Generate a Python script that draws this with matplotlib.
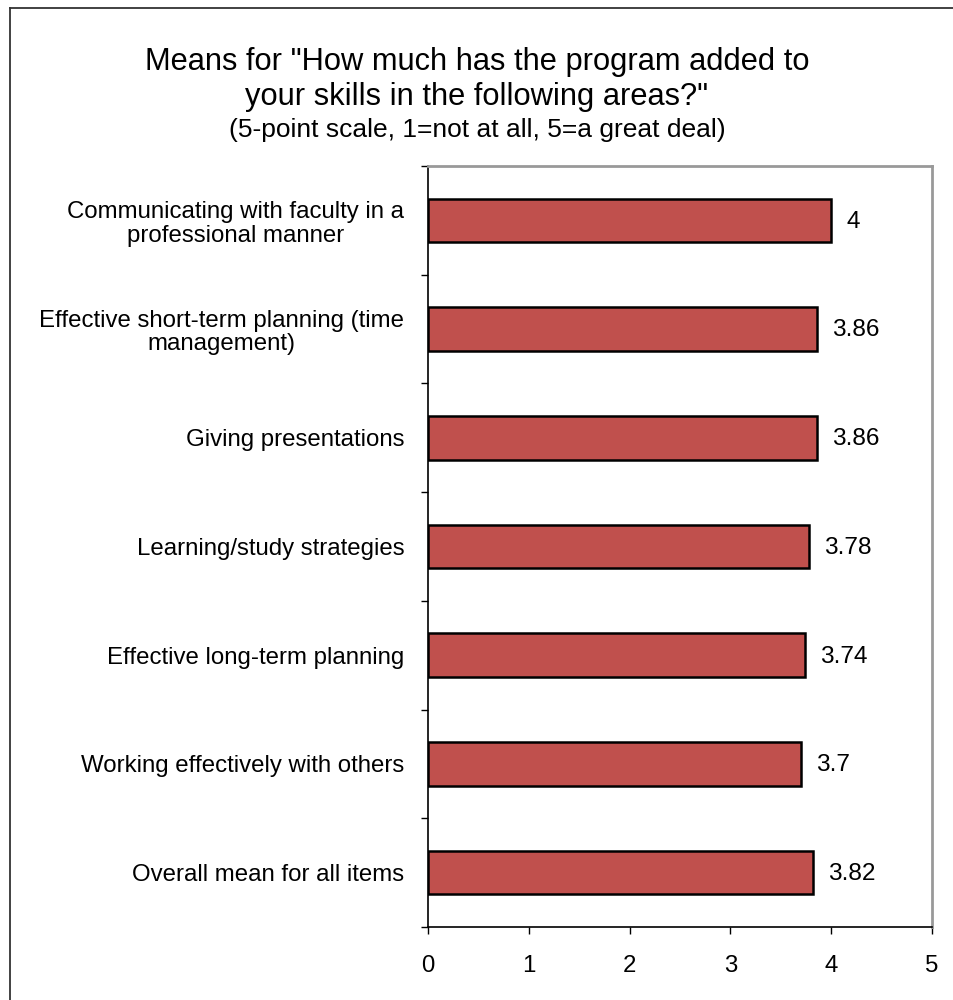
import matplotlib
matplotlib.use("Agg")
import matplotlib.pyplot as plt
from matplotlib.lines import Line2D

plt.rcParams['font.family'] = ['Liberation Sans', 'DejaVu Sans']

categories = [
    "Communicating with faculty in a\nprofessional manner",
    "Effective short-term planning (time\nmanagement)",
    "Giving presentations",
    "Learning/study strategies",
    "Effective long-term planning",
    "Working effectively with others",
    "Overall mean for all items",
]
means = [4, 3.86, 3.86, 3.78, 3.74, 3.7, 3.82]
value_labels = ["4", "3.86", "3.86", "3.78", "3.74", "3.7", "3.82"]
x_ticks = [0, 1, 2, 3, 4, 5]

W, H = 954, 1000
fig = plt.figure(figsize=(W / 100, H / 100), dpi=100)

# chart-area frame (top and left edges)
fig.add_artist(Line2D([10.5 / W, 10.5 / W], [0, 1 - 7.5 / H], transform=fig.transFigure,
                      color="#333333", lw=1.3))
fig.add_artist(Line2D([10.5 / W, 1], [1 - 7.5 / H, 1 - 7.5 / H], transform=fig.transFigure,
                      color="#333333", lw=1.3))

ax = fig.add_axes([428 / W, 1 - 927 / H, (932 - 428) / W, (927 - 166) / H])

pos = list(range(len(categories)))
ax.barh(pos, means, height=0.4, color="#C0504D", edgecolor="black", linewidth=1.8, zorder=3)

for p, v, lab in zip(pos, means, value_labels):
    ax.annotate(lab, xy=(v, p), xytext=(11, -1), textcoords="offset points",
                va="center", ha="left", fontsize=17.6)

ax.set_xlim(0, 5)
ax.set_ylim(len(categories) - 0.5, -0.5)
ax.set_xticks(x_ticks)
ax.set_xticklabels([str(t) for t in x_ticks], fontsize=17.3)
ax.tick_params(axis="x", direction="out", length=5, width=1, pad=15, colors="black")

ax.set_yticks(pos)
ax.set_yticklabels(categories, fontsize=17.3)
for t in ax.get_yticklabels():
    t.set_multialignment("center")
    t.set_linespacing(1.1)
ax.set_yticks([p - 0.5 for p in range(len(categories) + 1)], minor=True)
ax.tick_params(axis="y", which="major", length=0, pad=17)
ax.tick_params(axis="y", which="minor", direction="out", length=5, width=1)

for side in ("left", "bottom"):
    ax.spines[side].set_color("black")
    ax.spines[side].set_linewidth(1.2)
for side in ("top", "right"):
    ax.spines[side].set_color("#999999")
    ax.spines[side].set_linewidth(2)

fig.text(0.5, 1 - 62 / H, 'Means for "How much has the program added to', ha="center", va="center",
         fontsize=22.2)
fig.text(0.5, 1 - 97 / H, 'your skills in the following areas?"', ha="center", va="center",
         fontsize=22.2)
fig.text(0.5, 1 - 130 / H, "(5-point scale, 1=not at all, 5=a great deal)", ha="center", va="center",
         fontsize=19)

fig.savefig("out.png", dpi=100)
